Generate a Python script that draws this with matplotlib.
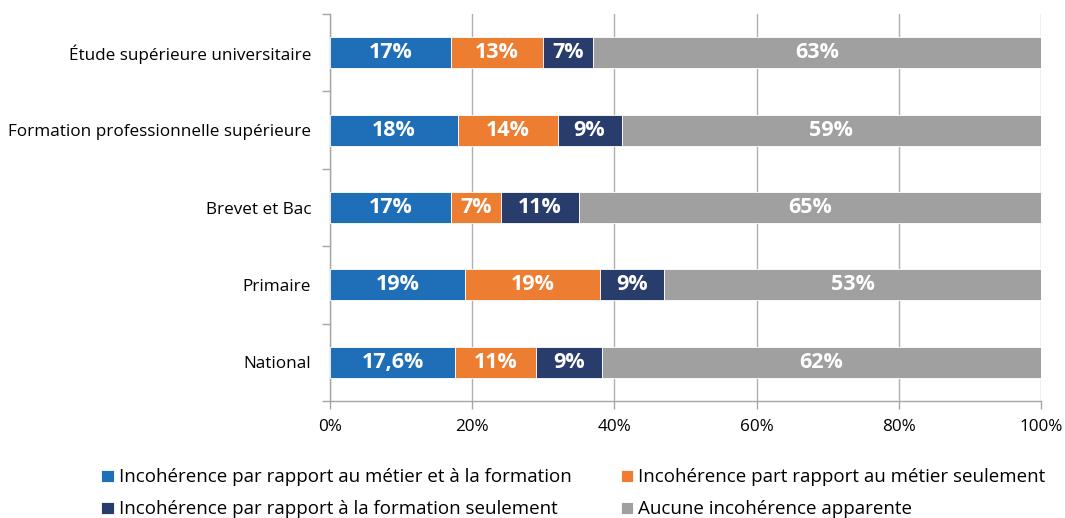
import numpy as np
import matplotlib.pyplot as plt

categories = ["Étude supérieure universitaire", "Formation professionnelle supérieure",
              "Brevet et Bac", "Primaire", "National"]
series_names = ["Incohérence par rapport au métier et à la formation",
                "Incohérence part rapport au métier seulement",
                "Incohérence par rapport à la formation seulement",
                "Aucune incohérence apparente"]
metier_formation = [17, 18, 17, 19, 17.6]
metier_seul = [13, 14, 7, 19, 11.4]
formation_seul = [7, 9, 11, 9, 9.2]
aucune = [63, 59, 65, 53, 61.8]
colors = ["#1f6fb8", "#ed7d31", "#293d6d", "#a0a0a0"]

plt.rcParams['font.family'] = ['Open Sans', 'DejaVu Sans']

fig = plt.figure(figsize=(10.65, 5.18), dpi=100)
ax = fig.add_axes([330 / 1065, 1 - 401 / 518, 711 / 1065, 387 / 518])

y = np.arange(len(categories))
left = np.zeros(len(categories))
for si, (name, vals, col) in enumerate(zip(series_names,
                                           [metier_formation, metier_seul, formation_seul, aucune],
                                           colors)):
    vals = np.array(vals, dtype=float)
    ax.barh(y, vals, left=left, height=0.4, color=col, edgecolor='white', linewidth=0.6,
            label=name, zorder=3)
    for yi, l, v in zip(y, left, vals):
        # only the national share of the first series keeps its decimal
        if si == 0 and v % 1:
            txt = f"{v:.1f}".replace('.', ',') + "%"
        else:
            txt = f"{v:.0f}%"
        ax.text(l + v / 2, yi, txt, ha='center', va='center', color='white',
                fontsize=15.5, fontweight='bold', zorder=4)
    left += vals

ax.set_xlim(0, 100)
ax.set_ylim(len(categories) - 0.5, -0.5)
ax.set_xticks(np.arange(0, 101, 20))
ax.set_xticklabels([f"{t}%" for t in range(0, 101, 20)], fontsize=12.3)
ax.set_yticks(y)
ax.set_yticklabels(categories, fontsize=12.3)
ax.set_yticks(np.arange(-0.5, len(categories), 1), minor=True)
ax.tick_params(axis='y', which='major', length=0, pad=13.5)
ax.tick_params(axis='y', which='minor', length=6, color='#a6a6a6', width=1)
ax.tick_params(axis='x', length=6, color='#a6a6a6', width=1, pad=7)
ax.grid(axis='x', color='#b0b0b0', linewidth=1, zorder=0)

for s in ['top', 'right']:
    ax.spines[s].set_visible(False)
for s in ['left', 'bottom']:
    ax.spines[s].set_color('#a6a6a6')
    ax.spines[s].set_linewidth(1)

handles, labels = ax.get_legend_handles_labels()
order = [0, 2, 1, 3]
fig.legend([handles[i] for i in order], [labels[i] for i in order],
           loc='upper left', bbox_to_anchor=(92 / 1065, 1 - 459 / 518), ncol=2,
           frameon=False, fontsize=13.5, handlelength=0.65, handleheight=0.65,
           handletextpad=0.3, columnspacing=2.6, labelspacing=0.75, borderpad=0)

fig.savefig('out.png', dpi=100)
